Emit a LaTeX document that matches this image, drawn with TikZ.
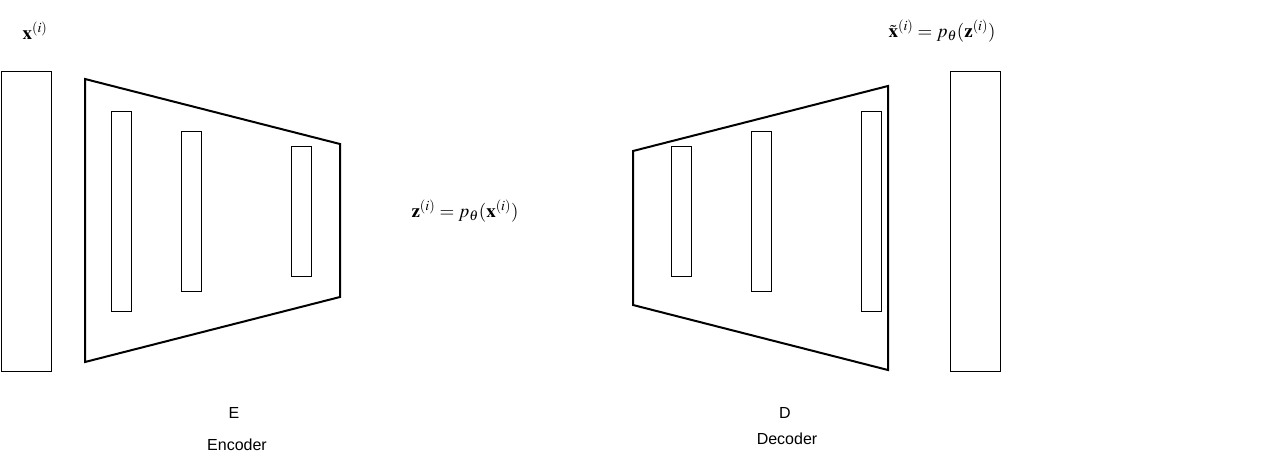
\documentclass[tikz,border=0pt]{standalone}
\usepackage{mathptmx}
\usepackage{fontspec}
\setmainfont{Liberation Sans}
\usepackage{amsmath}
\usepackage{tikz}

\tikzset{
    layer/.style={draw,thick,minimum width=20pt,minimum height=#1,inner sep=0pt},
    datavec/.style={draw,thick,minimum width=50pt,minimum height=300pt,inner sep=0pt},
    block/.style={draw,line width=2pt,line join=miter},
    lbl/.style={font=\fontsize{16}{19}\selectfont,inner sep=0pt},
    mlbl/.style={font=\fontsize{19}{23}\selectfont,inner sep=0pt},
}

\begin{document}
\begin{tikzpicture}[x=1pt,y=-1pt]
    		\useasboundingbox (0,0) rectangle (1283,458);
    		% input and reconstruction
    		\node (xin) at (26,221) [datavec] {};
    		\node (xout) at (975,221) [datavec] {};
    		% encoder block
    		\coordinate (e1) at (85,79);
    		\coordinate (e2) at (340,144);
    		\coordinate (e3) at (340,297);
    		\coordinate (e4) at (85,362);
    		\draw[block] (e1) -- (e2) -- (e3) -- (e4) -- cycle;
    		% decoder block
    		\coordinate (d1) at (633,151);
    		\coordinate (d2) at (888,86);
    		\coordinate (d3) at (888,370);
    		\coordinate (d4) at (633,305);
    		\draw[block] (d1) -- (d2) -- (d3) -- (d4) -- cycle;
    		% hidden layers
    		\foreach \n/\x/\h in {1/121/200,2/191/160,3/301/130}
    		{
    			\node (enc\n) at (\x,211) [layer=\h pt] {};
    		}
    		\foreach \n/\x/\h in {1/681/130,2/761/160,3/871/200}
    		{
    			\node (dec\n) at (\x,211) [layer=\h pt] {};
    		}
    		% labels
    		\node (xlbl) at (35,31) [mlbl] {$\mathbf{x}^{(i)}$};
    		\node (xtlbl) at (942,31) [mlbl] {$\tilde{\mathbf{x}}^{(i)} = p_\theta(\mathbf{z}^{(i)})$};
    		\node (zlbl) at (465,211) [mlbl] {$\mathbf{z}^{(i)} = p_\theta(\mathbf{x}^{(i)})$};
    		\node (elbl) at (234,413) [lbl] {E};
    		\node (encname) at (237,445) [lbl] {Encoder};
    		\node (dlbl) at (785,413) [lbl] {D};
    		\node (decname) at (787,439) [lbl] {Decoder};
    		\end{tikzpicture}
\end{document}
